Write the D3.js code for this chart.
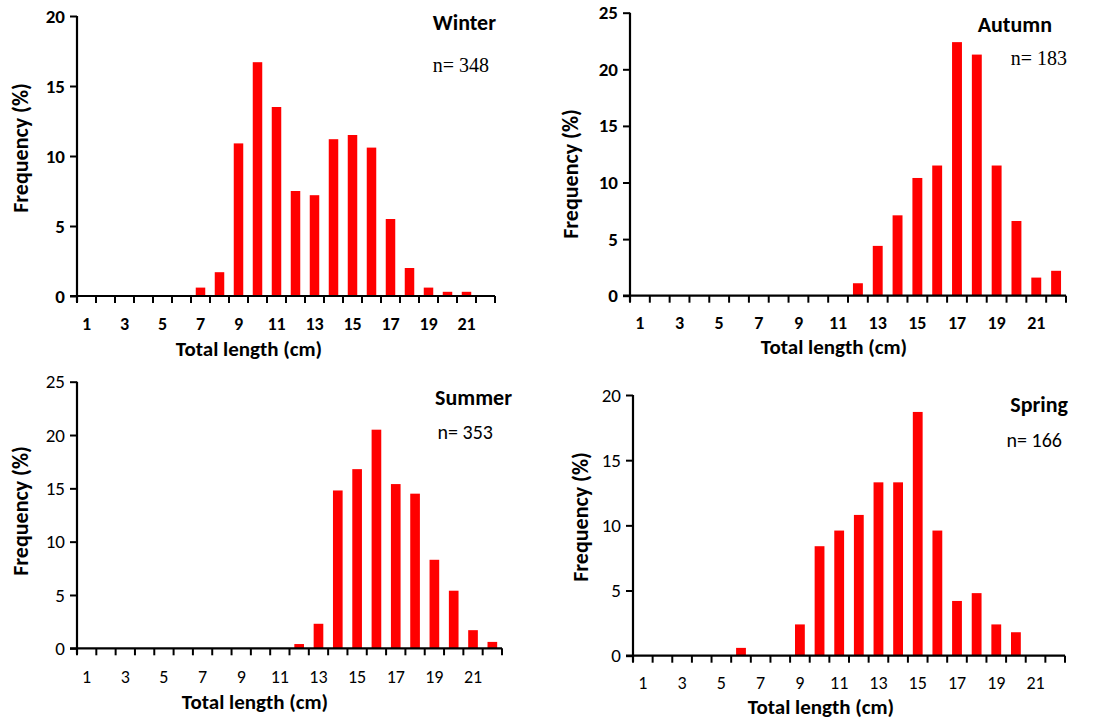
<!DOCTYPE html>
<html><head><meta charset="utf-8">
<script src="https://cdn.jsdelivr.net/npm/d3@7"></script>
<style>
body{margin:0;background:#fff;}
svg{display:block;}
</style></head>
<body>
<svg id="chart" width="1107" height="719"></svg>
<script>
// ---- data ----
const lengths = d3.range(1, 23); // total length classes (cm)
const tickLabels = [1,3,5,7,9,11,13,15,17,19,21];
const seasons = ["Winter","Autumn","Summer","Spring"];
const sampleSizes = [348, 183, 353, 166];
const winter = [0,0,0,0,0,0,0.6,1.7,10.9,16.7,13.5,7.5,7.2,11.2,11.5,10.6,5.5,2.0,0.6,0.3,0.3,0];
const autumn = [0,0,0,0,0,0,0,0,0,0,0,1.1,4.4,7.1,10.4,11.5,22.4,21.3,11.5,6.6,1.6,2.2];
const summer = [0,0,0,0,0,0,0,0,0,0,0,0.4,2.3,14.8,16.8,20.5,15.4,14.5,8.3,5.4,1.7,0.6];
const spring = [0,0,0,0,0,0.6,0,0,2.4,8.4,9.6,10.8,13.3,13.3,18.7,9.6,4.2,4.8,2.4,1.8,0,0];
const yMaxes = [20, 25, 25, 20];
const yTickSteps = [5, 5, 5, 5];
const xTitle = "Total length (cm)";
const yTitle = "Frequency (%)";

// ---- layout ----
const layouts = [
  {x0:77, x1:495, yTop:16, yBot:296, bold:true, nSerif:true,
   title:{x:496,y:30}, n:{x:489,y:72}, yt:{x:28,y:148}, xt:{x:249,y:356}, tickY:330},
  {x0:630, x1:1066, yTop:12.7, yBot:295.7, bold:true, nSerif:true,
   title:{x:1052,y:32}, n:{x:1067,y:65}, yt:{x:578,y:174}, xt:{x:834,y:354}, tickY:329},
  {x0:77, x1:502, yTop:381.7, yBot:648.3, bold:false, nSerif:false,
   title:{x:512,y:405}, n:{x:493,y:439}, yt:{x:28,y:511}, xt:{x:255,y:709}, tickY:683},
  {x0:633, x1:1065, yTop:395, yBot:655.7, bold:false, nSerif:false,
   title:{x:1068,y:412}, n:{x:1062,y:447}, yt:{x:588,y:517}, xt:{x:821,y:714}, tickY:689}
];
const series = [winter, autumn, summer, spring];
const sans = "Carlito, Calibri, Lato, 'Open Sans', sans-serif";
const serif = "'Liberation Serif', 'Times New Roman', serif";

const svg = d3.select("#chart");

series.forEach((vals, i) => {
  const L = layouts[i];
  const g = svg.append("g");
  const x = d3.scaleBand().domain(lengths).range([L.x0, L.x1])
    .paddingInner(0.5).paddingOuter(0.25);
  const y = d3.scaleLinear().domain([0, yMaxes[i]]).range([L.yBot, L.yTop]);
  const step = x.step();

  // bars
  g.selectAll("rect.bar").data(vals.map((v,k)=>({len:lengths[k], v})).filter(d=>d.v>0))
    .enter().append("rect")
    .attr("x", d => x(d.len))
    .attr("width", x.bandwidth())
    .attr("y", d => y(d.v))
    .attr("height", d => y(0) - y(d.v))
    .attr("fill", "#ff0000");

  // y axis
  const yAxis = d3.axisLeft(y).tickValues(d3.range(0, yMaxes[i] + 0.001, yTickSteps[i]))
    .tickSize(7).tickPadding(5).tickFormat(d3.format("d"));
  const ya = g.append("g").attr("transform", `translate(${L.x0},0)`).call(yAxis);
  ya.select(".domain").remove();
  ya.selectAll(".tick line").attr("stroke", "#000").attr("stroke-width", 2);
  ya.selectAll(".tick text").attr("font-family", sans).attr("font-size", 19)
    .attr("font-weight", L.bold ? "bold" : "normal").attr("fill", "#000");
  g.append("line").attr("x1", L.x0).attr("x2", L.x0).attr("y1", L.yTop).attr("y2", L.yBot + 6)
    .attr("stroke", "#000").attr("stroke-width", 2.2);

  // x axis line
  g.append("line").attr("x1", L.x0 - 7).attr("x2", L.x1).attr("y1", L.yBot).attr("y2", L.yBot)
    .attr("stroke", "#000").attr("stroke-width", 2.2);
  // boundary ticks
  const bounds = d3.range(0, lengths.length + 1).map(k => L.x0 + k * step);
  g.selectAll("line.xt").data(bounds).enter().append("line")
    .attr("x1", d => d).attr("x2", d => d).attr("y1", L.yBot).attr("y2", L.yBot + 7)
    .attr("stroke", "#000").attr("stroke-width", 2);
  // x tick labels
  g.selectAll("text.xl").data(tickLabels).enter().append("text")
    .attr("x", d => x(d) + x.bandwidth() / 2).attr("y", L.tickY)
    .attr("text-anchor", "middle").attr("font-family", sans).attr("font-size", 18)
    .attr("font-weight", L.bold ? "bold" : "normal").text(d => d);

  // axis titles
  g.append("text").attr("x", L.xt.x).attr("y", L.xt.y).attr("text-anchor", "middle")
    .attr("font-family", sans).attr("font-size", 21).attr("font-weight", "bold").text(xTitle);
  g.append("text").attr("transform", `translate(${L.yt.x},${L.yt.y}) rotate(-90)`)
    .attr("text-anchor", "middle").attr("font-family", sans).attr("font-size", 22)
    .attr("font-weight", "bold").text(yTitle);

  // season title and n
  g.append("text").attr("x", L.title.x).attr("y", L.title.y).attr("text-anchor", "end")
    .attr("font-family", sans).attr("font-size", 22).attr("font-weight", "bold").text(seasons[i]);
  g.append("text").attr("x", L.n.x).attr("y", L.n.y).attr("text-anchor", "end")
    .attr("font-family", L.nSerif ? serif : sans).attr("font-size", 20)
    .text("n= " + sampleSizes[i]);
});
</script>
</body></html>
